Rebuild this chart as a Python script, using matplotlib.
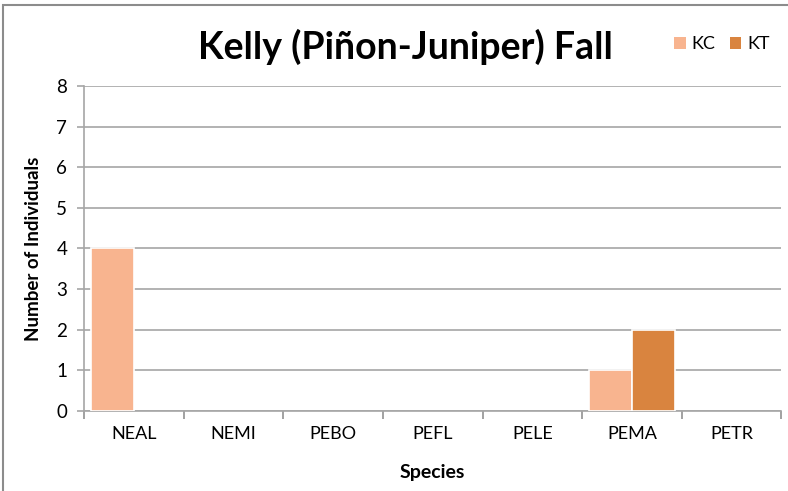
import numpy as np
import matplotlib
matplotlib.use("Agg")
import matplotlib.pyplot as plt
from matplotlib.patches import Rectangle, Patch

species = ["NEAL", "NEMI", "PEBO", "PEFL", "PELE", "PEMA", "PETR"]
kc = [4, 0, 0, 0, 0, 1, 0]
kt = [0, 0, 0, 0, 0, 2, 0]
series_names = ["KC", "KT"]
colors = ["#F8B48F", "#D9843F"]

plt.rcParams["font.family"] = ["Lato", "DejaVu Sans"]

fig = plt.figure(figsize=(7.88, 4.91), dpi=100)
ax = fig.add_axes([0.1066, 0.163, 0.885, 0.662])

x = np.arange(len(species))
w = 0.43
for vals, c, name, off in [(kc, colors[0], series_names[0], -w / 2), (kt, colors[1], series_names[1], w / 2)]:
    bars = ax.bar(x + off, vals, w, color=c, edgecolor="white", linewidth=1.2, zorder=3)
    # zero-height bars would leave a white edge line on the axis
    for b, v in zip(bars, vals):
        if v == 0:
            b.set_visible(False)

ax.set_xlim(-0.5, len(species) - 0.5)
ax.set_ylim(0, 8)
ax.set_yticks(range(0, 9))
ax.yaxis.grid(True, color="#A6A6A6", linewidth=1.2, zorder=0)

# tick marks at category boundaries, labels at centres
ax.set_xticks(np.arange(-0.5, len(species)))
ax.set_xticklabels([])
ax.set_xticks(x, minor=True)
ax.set_xticklabels(species, minor=True, fontsize=13)
ax.tick_params(axis="x", which="major", length=6, color="#9A9A9A", width=1.3)
ax.tick_params(axis="x", which="minor", length=0, pad=11)
ax.tick_params(axis="y", length=5, color="#A6A6A6", width=1.2, labelsize=13.5, pad=7)
for s in ["top", "right"]:
    ax.spines[s].set_visible(False)
ax.spines["left"].set_color("#A6A6A6")
ax.spines["bottom"].set_color("#A6A6A6")
ax.spines["left"].set_linewidth(1.2)
ax.spines["bottom"].set_linewidth(1.2)

ax.set_xlabel("Species", fontsize=14, fontweight="bold", labelpad=16)
ax.set_ylabel("Number of Individuals", fontsize=13.5, fontweight="bold", labelpad=10)

fig.text(0.515, 0.905, "Kelly (Piñon-Juniper) Fall", ha="center", va="center",
         fontsize=27, fontweight="bold")
handles = [Patch(facecolor=c, edgecolor="none", label=n) for c, n in zip(colors, series_names)]
fig.legend(handles=handles, loc="center right", bbox_to_anchor=(0.997, 0.91), ncol=2, frameon=False,
           fontsize=13, handlelength=0.65, handleheight=0.65, columnspacing=0.8, handletextpad=0.3)

fig.patches.append(Rectangle((0.004, -0.01), 1.2, 1.0, transform=fig.transFigure,
                             fill=False, edgecolor="#8C8C8C", linewidth=1.5))

fig.savefig("out.png", dpi=100)
